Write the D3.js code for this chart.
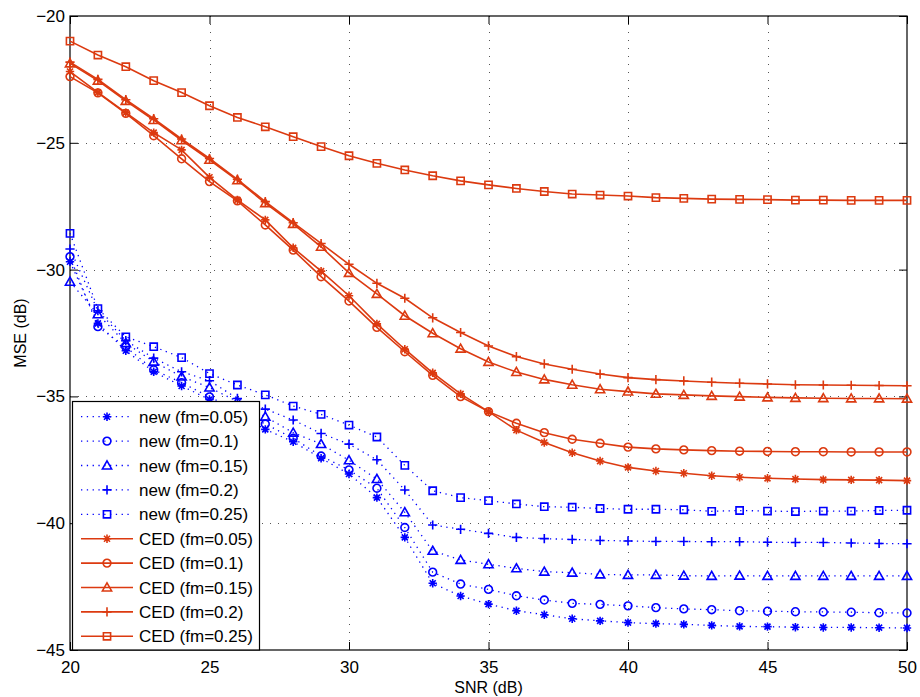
<!DOCTYPE html>
<html><head><meta charset="utf-8">
<script src="https://cdn.jsdelivr.net/npm/d3@7"></script>
<style>body{margin:0;background:#fff}svg{display:block}</style>
</head><body><svg id="c" width="920" height="697"></svg>
<script>
// ---------- data ----------
const snr = [20,21,22,23,24,25,26,27,28,29,30,31,32,33,34,35,36,37,38,39,40,41,42,43,44,45,46,47,48,49,50];

const newFm005 = [-29.69,-32.12,-33.2,-34.03,-34.59,-35.12,-35.7,-36.3,-36.79,-37.44,-38.06,-38.99,-40.56,-42.37,-42.87,-43.19,-43.45,-43.61,-43.77,-43.85,-43.92,-43.96,-43.99,-44.03,-44.07,-44.08,-44.1,-44.11,-44.11,-44.12,-44.13];
const newFm010 = [-29.49,-32.25,-33.05,-33.95,-34.46,-35.02,-35.55,-36.09,-36.65,-37.35,-37.9,-38.62,-40.17,-41.93,-42.4,-42.61,-42.86,-43.03,-43.16,-43.2,-43.26,-43.33,-43.38,-43.41,-43.45,-43.47,-43.49,-43.5,-43.51,-43.53,-43.54];
const newFm015 = [-30.48,-31.76,-32.9,-33.63,-34.22,-34.65,-35.2,-35.8,-36.43,-36.88,-37.52,-38.26,-39.57,-41.09,-41.45,-41.62,-41.78,-41.91,-41.95,-42.02,-42.04,-42.04,-42.07,-42.08,-42.07,-42.08,-42.08,-42.08,-42.08,-42.08,-42.08];
const newFm020 = [-29.19,-31.62,-32.8,-33.49,-34.03,-34.38,-35.08,-35.5,-35.93,-36.46,-36.88,-37.5,-38.69,-40.07,-40.24,-40.4,-40.56,-40.61,-40.64,-40.68,-40.7,-40.72,-40.72,-40.73,-40.73,-40.75,-40.76,-40.76,-40.78,-40.8,-40.81];
const newFm025 = [-28.57,-31.54,-32.65,-33.04,-33.47,-34.1,-34.55,-34.94,-35.38,-35.71,-36.13,-36.6,-37.72,-38.72,-38.99,-39.11,-39.24,-39.35,-39.37,-39.42,-39.45,-39.45,-39.47,-39.53,-39.5,-39.52,-39.54,-39.52,-39.52,-39.5,-39.49];

const cedFm005 = [-22.19,-23.01,-23.81,-24.6,-25.28,-26.36,-27.25,-28.04,-29.14,-30.06,-31.03,-32.14,-33.14,-34.07,-34.9,-35.6,-36.33,-36.82,-37.22,-37.55,-37.8,-37.94,-38.03,-38.13,-38.19,-38.23,-38.26,-38.28,-38.29,-38.3,-38.32];
const cedFm010 = [-22.39,-23.03,-23.84,-24.72,-25.63,-26.53,-27.29,-28.24,-29.23,-30.28,-31.24,-32.28,-33.24,-34.17,-35.01,-35.6,-36.06,-36.43,-36.69,-36.85,-37.0,-37.07,-37.11,-37.14,-37.16,-37.17,-37.18,-37.18,-37.19,-37.19,-37.19];
const cedFm015 = [-21.87,-22.55,-23.35,-24.1,-24.9,-25.67,-26.48,-27.38,-28.2,-29.1,-30.13,-30.96,-31.82,-32.51,-33.12,-33.64,-34.04,-34.33,-34.54,-34.72,-34.81,-34.9,-34.94,-34.98,-35.01,-35.04,-35.06,-35.07,-35.08,-35.08,-35.09];
const cedFm020 = [-21.82,-22.5,-23.3,-24.05,-24.85,-25.62,-26.44,-27.32,-28.15,-28.97,-29.79,-30.54,-31.13,-31.9,-32.48,-33.01,-33.43,-33.72,-33.93,-34.12,-34.26,-34.34,-34.39,-34.44,-34.48,-34.51,-34.54,-34.55,-34.56,-34.57,-34.58];
const cedFm025 = [-20.99,-21.54,-22.0,-22.55,-23.02,-23.54,-24.0,-24.37,-24.76,-25.15,-25.51,-25.81,-26.07,-26.3,-26.5,-26.66,-26.8,-26.92,-27.02,-27.06,-27.1,-27.16,-27.19,-27.22,-27.23,-27.24,-27.26,-27.26,-27.27,-27.27,-27.27];

const legendLabels = ["new (fm=0.05)","new (fm=0.1)","new (fm=0.15)","new (fm=0.2)","new (fm=0.25)",
                      "CED (fm=0.05)","CED (fm=0.1)","CED (fm=0.15)","CED (fm=0.2)","CED (fm=0.25)"];
const markerShapes = ["star","circle","triangle","plus","square","star","circle","triangle","plus","square"];
const xTicks = [20,25,30,35,40,45,50];
const yTicks = [-45,-40,-35,-30,-25,-20];
const xLabel = "SNR (dB)";
const yLabel = "MSE (dB)";

// ---------- styles ----------
const BLUE = "#0000ff", RED = "#dc3a10";
const seriesValues = [newFm005,newFm010,newFm015,newFm020,newFm025,cedFm005,cedFm010,cedFm015,cedFm020,cedFm025];
const series = seriesValues.map((vals,i)=>({
  label: legendLabels[i], shape: markerShapes[i], values: vals,
  color: i<5 ? BLUE : RED, dotted: i<5
}));

const svg = d3.select("#c");
const L=70, R=907, T=16, B=650;
const FONT = "'Liberation Sans', Arial, Helvetica, sans-serif";
const FS = 17;
const x = d3.scaleLinear().domain([20,50]).range([L,R]);
const y = d3.scaleLinear().domain([-45,-20]).range([B,T]);
const fmt = d => d<0 ? "\u2212"+Math.abs(d) : String(d);

// grid
const grid = svg.append("g").attr("stroke","#555").attr("stroke-width",1).attr("stroke-dasharray","1,7").attr("shape-rendering","crispEdges");
xTicks.slice(1,-1).forEach(v=>grid.append("line").attr("x1",Math.round(x(v))+0.5).attr("x2",Math.round(x(v))+0.5).attr("y1",T).attr("y2",B));
yTicks.slice(1,-1).forEach(v=>grid.append("line").attr("y1",Math.round(y(v))+0.5).attr("y2",Math.round(y(v))+0.5).attr("x1",L).attr("x2",R));

// axes
function styleAxis(g){
  g.select(".domain").remove();
  g.selectAll("line").attr("stroke","#000").attr("stroke-width",1);
  g.selectAll("text").attr("font-family",FONT).attr("font-size",FS).attr("fill","#000");
}
svg.append("g").attr("transform",`translate(0,${B})`)
  .call(d3.axisBottom(x).tickValues(xTicks).tickSize(-8).tickPadding(11).tickFormat(fmt)).call(styleAxis);
svg.append("g").attr("transform",`translate(0,${T})`)
  .call(d3.axisTop(x).tickValues(xTicks).tickSize(-8).tickFormat("")).call(styleAxis);
svg.append("g").attr("transform",`translate(${L},0)`)
  .call(d3.axisLeft(y).tickValues(yTicks).tickSize(-8).tickPadding(5).tickFormat(fmt)).call(styleAxis);
svg.append("g").attr("transform",`translate(${R},0)`)
  .call(d3.axisRight(y).tickValues(yTicks).tickSize(-8).tickFormat("")).call(styleAxis);
svg.append("rect").attr("x",L).attr("y",T).attr("width",R-L).attr("height",B-T)
  .attr("fill","none").attr("stroke","#000").attr("stroke-width",1.2);

// marker path generator
function markerPath(shape){
  switch(shape){
    case "circle": { const r=3.9; return `M${-r},0A${r},${r} 0 1,0 ${r},0A${r},${r} 0 1,0 ${-r},0Z`; }
    case "square": { const s=3.6; return `M${-s},${-s}H${s}V${s}H${-s}Z`; }
    case "triangle": { const h=4.6; return `M0,${-h}L${h},${h*0.75}L${-h},${h*0.75}Z`; }
    case "plus": { const s=4.6; return `M${-s},0H${s}M0,${-s}V${s}`; }
    case "star": { const s=4.2, d=3.0; return `M${-s},0H${s}M0,${-s}V${s}M${-d},${-d}L${d},${d}M${-d},${d}L${d},${-d}`; }
  }
}

const line = d3.line().x((d,i)=>x(snr[i])).y(d=>y(d));
const plot = svg.append("g");
series.forEach(s=>{
  const g = plot.append("g");
  g.append("path").attr("d",line(s.values)).attr("fill","none").attr("stroke",s.color)
    .attr("stroke-width", s.dotted?1.3:1.6).attr("stroke-dasharray", s.dotted?"1.3,4.5":null);
  g.selectAll("path.m").data(s.values).join("path").attr("class","m")
    .attr("transform",(d,i)=>`translate(${x(snr[i])},${y(d)})`)
    .attr("d",markerPath(s.shape)).attr("fill","none").attr("stroke",s.color)
    .attr("stroke-width",1.6).attr("stroke-linejoin","miter");
});

// legend
const lg = svg.append("g");
const lx0=72, ly0=401, lw=187, lh=249;
lg.append("rect").attr("x",lx0+0.5).attr("y",ly0+0.5).attr("width",lw).attr("height",lh-0.5)
  .attr("fill","#fff").attr("stroke","#000").attr("stroke-width",1.2);
series.forEach((s,i)=>{
  const cy = 416.7 + i*24.4;
  lg.append("line").attr("x1",81).attr("x2",133).attr("y1",cy).attr("y2",cy)
    .attr("stroke",s.color).attr("stroke-width",s.dotted?1.3:1.6).attr("stroke-dasharray",s.dotted?"1.3,4.5":null);
  lg.append("path").attr("transform",`translate(107,${cy})`).attr("d",markerPath(s.shape))
    .attr("fill","none").attr("stroke",s.color).attr("stroke-width",1.6);
  lg.append("text").attr("x",139).attr("y",cy+6).text(s.label)
    .attr("font-family",FONT).attr("font-size",FS).attr("fill","#000");
});

// axis labels
svg.append("text").attr("x",(L+R)/2).attr("y",693).attr("text-anchor","middle")
  .attr("font-family",FONT).attr("font-size",16).text(xLabel);
svg.append("text").attr("transform",`translate(26,${(T+B)/2}) rotate(-90)`).attr("text-anchor","middle")
  .attr("font-family",FONT).attr("font-size",16).text(yLabel);
</script>
</body></html>
